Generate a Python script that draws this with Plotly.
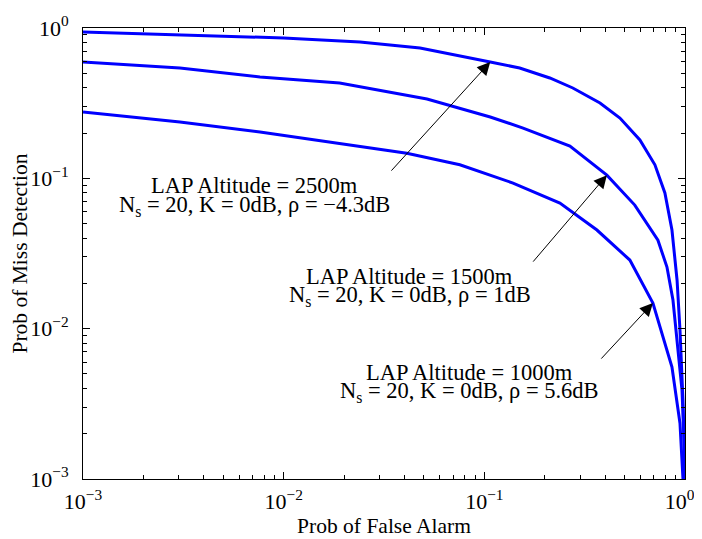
import math
import plotly.graph_objects as go

# ---- data ----
pfa_2500 = [0.001, 0.00216, 0.00383, 0.01, 0.024, 0.0478, 0.107, 0.150, 0.212, 0.276,
            0.377, 0.474, 0.596, 0.708, 0.794, 0.861, 0.913, 0.944, 0.977, 1.0]
pmd_2500 = [0.94, 0.912, 0.885, 0.858, 0.807, 0.736, 0.594, 0.542, 0.465, 0.399,
            0.317, 0.252, 0.180, 0.123, 0.080, 0.0453, 0.021, 0.0098, 0.00335, 0.001]

pfa_1500 = [0.001, 0.00304, 0.00762, 0.019, 0.0518, 0.107, 0.156, 0.267, 0.408,
            0.562, 0.733, 0.813, 0.871, 0.922, 0.966, 0.989, 1.0]
pmd_1500 = [0.594, 0.542, 0.472, 0.431, 0.337, 0.256, 0.216, 0.164, 0.105,
            0.0664, 0.0388, 0.0257, 0.0155, 0.00755, 0.0039, 0.00182, 0.001]

pfa_1000 = [0.001, 0.00304, 0.00762, 0.024, 0.0411, 0.0755, 0.139, 0.238, 0.364,
            0.531, 0.692, 0.861, 0.944, 0.977]
pmd_1000 = [0.276, 0.237, 0.203, 0.162, 0.147, 0.123, 0.093, 0.0685, 0.0453,
            0.0286, 0.0148, 0.00555, 0.00235, 0.001]

label_line1 = ["LAP Altitude = 2500m", "LAP Altitude = 1500m", "LAP Altitude = 1000m"]
label_line2 = [
    "N<sub>s</sub> = 20, K = 0dB, ρ = −4.3dB",
    "N<sub>s</sub> = 20, K = 0dB, ρ = 1dB",
    "N<sub>s</sub> = 20, K = 0dB, ρ = 5.6dB",
]
arrow_tip_index = [6, 8, 10]
# label centre x, line-1 y, line-2 y (data units)
label_x = [0.00719, 0.0426, 0.0847]
label_y1 = [0.0902, 0.0224, 0.00514]
label_y2 = [0.0654, 0.0165, 0.00379]
arrow_tail = [(0.0339, 0.110), (0.1726, 0.0273), (0.3767, 0.00618)]

major_ticks = [0.001, 0.01, 0.1, 1]
y_tick_text = ["10<sup>−3</sup>", "10<sup>−2</sup>", "10<sup>−1</sup>", "10<sup>0</sup>"]
x_tick_text = ["10<sup>−3</sup>", "10<sup>−2</sup>", "10<sup>−1</sup>",
               "10<sup>0</sup>&nbsp;&nbsp;"]
minor_ticks = [m * 10 ** e for e in (-3, -2, -1) for m in range(2, 10)]

FONT = "Liberation Serif, Times New Roman, serif"
BLUE = "#0000FF"

fig = go.Figure()
series = [(pfa_2500, pmd_2500), (pfa_1500, pmd_1500), (pfa_1000, pmd_1000)]
for xs, ys in series:
    fig.add_trace(go.Scatter(x=xs, y=ys, mode="lines",
                             line=dict(color=BLUE, width=3), showlegend=False))

lab_font = dict(family=FONT, size=22.5, color="black")
for i, (xs, ys) in enumerate(series):
    k = arrow_tip_index[i]
    fig.add_annotation(x=math.log10(xs[k]), y=math.log10(ys[k]),
                       ax=math.log10(arrow_tail[i][0]), ay=math.log10(arrow_tail[i][1]),
                       xref="x", yref="y", axref="x", ayref="y",
                       showarrow=True, arrowhead=2, arrowsize=2.6, arrowwidth=1,
                       arrowcolor="black", text="")
    fig.add_annotation(x=math.log10(label_x[i]), y=math.log10(label_y1[i]),
                       xref="x", yref="y", text=label_line1[i], showarrow=False,
                       yanchor="middle", font=lab_font)
    fig.add_annotation(x=math.log10(label_x[i]), y=math.log10(label_y2[i]),
                       xref="x", yref="y", text=label_line2[i], showarrow=False,
                       yanchor="middle", font=lab_font)

axis_common = dict(
    type="log", range=[-3, 0], tickvals=major_ticks,
    ticks="inside", ticklen=7, tickcolor="black", tickwidth=1,
    showline=True, linecolor="black", linewidth=1, mirror="allticks",
    showgrid=False, zeroline=False, automargin=False,
    ticklabeloverflow="allow",
    tickfont=dict(family=FONT, size=22, color="black"),
    minor=dict(tickvals=minor_ticks, ticks="inside", ticklen=4,
               tickcolor="black", showgrid=False),
)

fig.update_xaxes(**axis_common, ticktext=x_tick_text, ticklabelstandoff=3,
                 title=dict(text="Prob of False Alarm", standoff=2,
                            font=dict(family=FONT, size=21.5, color="black")))
fig.update_yaxes(**axis_common, ticktext=y_tick_text, ticklabelstandoff=9,
                 title=dict(text="Prob of Miss Detection", standoff=4,
                            font=dict(family=FONT, size=21.5, color="black")))

# page body adds an 8px offset; compensate so the plot area matches the reference
fig.update_layout(
    width=694, height=531,
    margin=dict(l=75, r=17, t=20, b=60),
    paper_bgcolor="white", plot_bgcolor="white",
    font=dict(family=FONT, color="black"),
)

fig.write_html("out.html")
